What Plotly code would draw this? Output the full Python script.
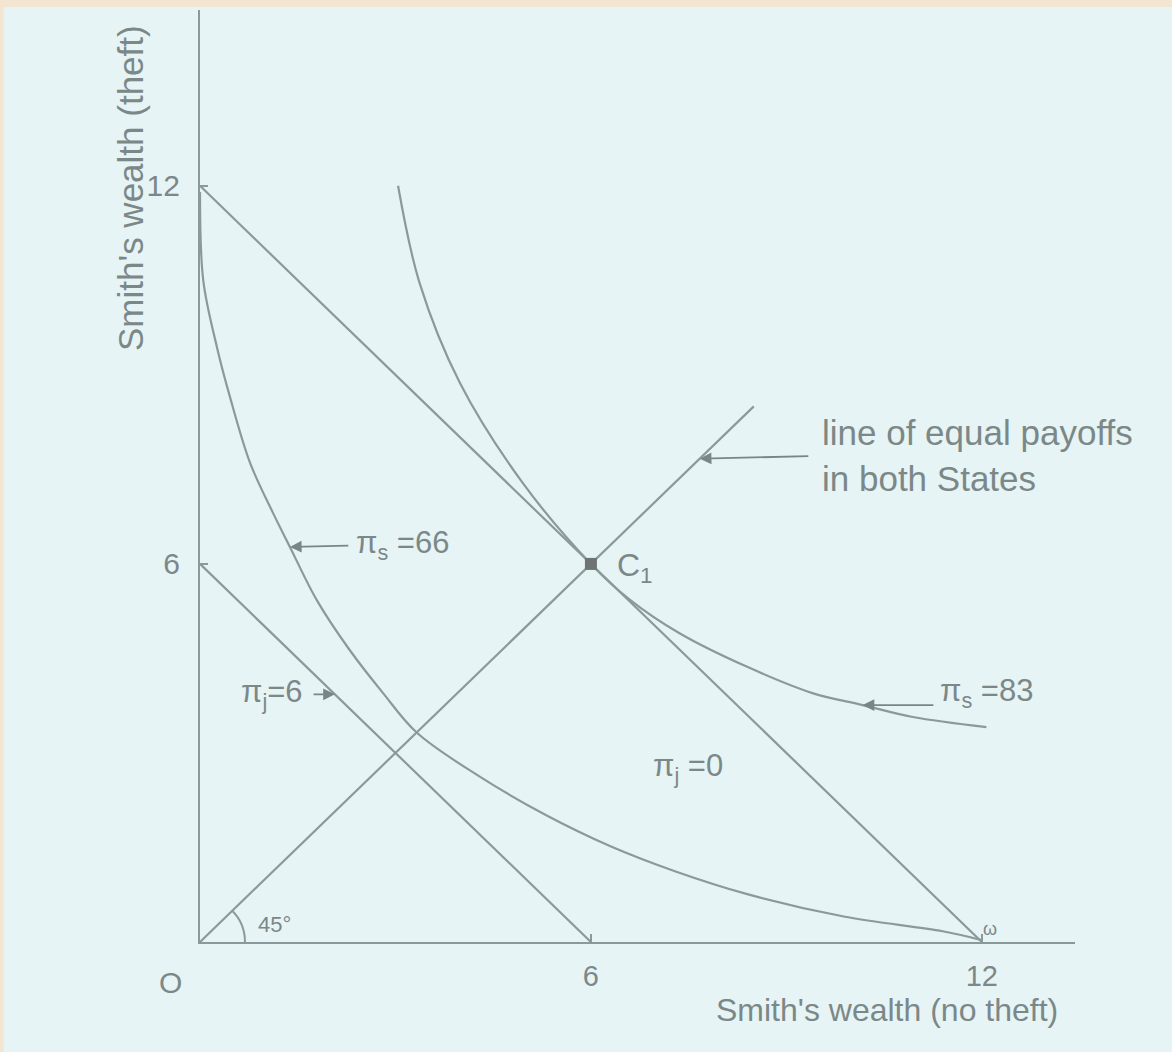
import plotly.graph_objects as go

# budget line through C1 (pi_j = 0) and the lower line (pi_j = 6)
budget_x = [0, 12]
budget_y = [12, 0]
low_x = [0, 6]
low_y = [6, 0]

# 45 degree line of equal payoffs
diag_x = [0, 8.5]
diag_y = [0, 8.5]

# indifference curve pi_s = 66
curve66_x = [0.0, 0.05, 0.26, 0.46, 0.77, 1.12, 1.38, 1.79, 2.30, 2.81, 3.33, 4.30, 5.30, 6.30, 7.30, 8.40, 9.90, 11.40, 12.0]
curve66_y = [11.9, 10.5, 9.44, 8.65, 7.60, 6.81, 6.27, 5.43, 4.63, 3.95, 3.32, 2.62, 2.02, 1.52, 1.12, 0.76, 0.40, 0.17, 0.03]

# indifference curve pi_s = 83
curve83_x = [3.04, 3.37, 3.99, 4.95, 6.0, 6.60, 7.36, 8.39, 9.40, 10.17, 10.94, 12.07]
curve83_y = [12.0, 10.46, 8.87, 7.29, 6.0, 5.43, 4.90, 4.37, 3.95, 3.76, 3.57, 3.41]

c1_x = [6]
c1_y = [6]

x_ticks = [6, 12]
y_ticks = [6, 12]

LINE = "#8a9a9a"
TEXT = "#7c8888"
FONT = "Liberation Sans"

fig = go.Figure()

for xs, ys in [(budget_x, budget_y), (low_x, low_y), (diag_x, diag_y),
               (curve66_x, curve66_y), (curve83_x, curve83_y)]:
    fig.add_trace(go.Scatter(x=xs, y=ys, mode="lines", line=dict(color=LINE, width=2.2, shape="spline", smoothing=1.0),
                             hoverinfo="skip", showlegend=False))

fig.add_trace(go.Scatter(x=c1_x, y=c1_y, mode="markers", marker=dict(symbol="square", size=12, color="#6e7474"),
                         showlegend=False, hoverinfo="skip"))

def label(x, y, text, size=31, anchor="center", **kw):
    fig.add_annotation(x=x, y=y, text=text, showarrow=False, xanchor=anchor,
                       font=dict(family=FONT, size=size, color=TEXT), **kw)

def arrow(x, y, tx, ty):
    fig.add_annotation(x=x, y=y, ax=tx, ay=ty, axref="x", ayref="y", text="", showarrow=True,
                       arrowhead=2, arrowsize=1.3, arrowwidth=1.8, arrowcolor="#7a8686")

# labels and arrows
arrow(1.38, 6.27, 2.3, 6.29)
label(2.37, 6.3, "π<sub>s</sub> =66", anchor="left")
arrow(2.07, 3.93, 1.72, 3.93)
label(1.61, 3.93, "π<sub>j</sub>=6", anchor="right")
arrow(10.17, 3.76, 11.28, 3.76)
label(11.32, 3.95, "π<sub>s</sub> =83", anchor="left")
label(7.49, 2.76, "π<sub>j</sub> =0")
arrow(7.67, 7.67, 9.36, 7.71)
label(9.51, 7.72, "line of equal payoffs<br>in both States", size=35, anchor="left", align="left")
label(6.37, 5.95, "C<sub>1</sub>", size=32, anchor="left")
label(12.12, 0.2, "ω", size=18)
label(1.15, 0.28, "45°", size=22)

# texts outside the axis ranges go in paper coordinates
def paper_label(x, y, text, size=35, **kw):
    fig.add_annotation(x=x, y=y, xref="paper", yref="paper", text=text, showarrow=False,
                       xanchor="center", yanchor="middle",
                       font=dict(family=FONT, size=size, color=TEXT), **kw)

paper_label(-0.034, -0.043, "O", size=30)
paper_label(-0.08, 0.809, "Smith's wealth (theft)", textangle=-90)
paper_label(0.785, -0.073, "Smith's wealth (no theft)", size=32)

# 45 degree arc
fig.add_shape(type="path", path="M 0.69,0 Q 0.69,0.30 0.49,0.50", line=dict(color=LINE, width=2))

# scanned page borders
fig.add_shape(type="rect", xref="paper", yref="paper", x0=-1, x1=2, y0=1.0032, y1=1.1,
              fillcolor="#f4e5d3", line_width=0, layer="below")
fig.add_shape(type="rect", xref="paper", yref="paper", x0=-1, x1=-0.2245, y0=-1, y1=2,
              fillcolor="#f4e5d3", line_width=0, layer="below")

fig.update_layout(
    width=1172, height=1052,
    margin=dict(l=200, r=97, t=10, b=110),
    paper_bgcolor="#e6f4f5", plot_bgcolor="rgba(0,0,0,0)",
    xaxis=dict(range=[0, 13.43], showgrid=False, zeroline=False, showline=True, linecolor=LINE, linewidth=2.2,
               tickvals=x_ticks, ticks="inside", ticklen=8, tickcolor=LINE, tickwidth=1.5,
               tickfont=dict(family=FONT, size=29, color=TEXT), ticklabelstandoff=7),
    yaxis=dict(range=[0, 14.79], showgrid=False, zeroline=False, showline=True, linecolor=LINE, linewidth=2.2,
               tickvals=y_ticks, ticks="inside", ticklen=8, tickcolor=LINE, tickwidth=1.5,
               tickfont=dict(family=FONT, size=30, color=TEXT), ticklabelstandoff=12),
    showlegend=False,
)

fig.write_html("out.html", config={"displayModeBar": False},
               post_script="document.body.style.margin='0';")
